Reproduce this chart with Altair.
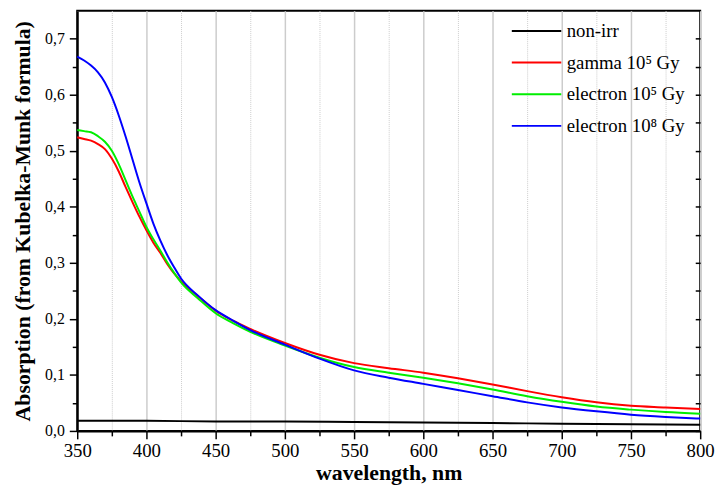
import altair as alt
import pandas as pd

# ---- data ----
wavelengths = [350, 355, 360, 365, 370, 375, 380, 385, 390, 395, 400, 405, 410, 415,
               420, 425, 437.5, 450, 462.5, 475, 500, 525, 550, 575, 600, 625, 650,
               675, 700, 725, 750, 775, 800]
gamma_1e5 = [0.524, 0.521, 0.518, 0.512, 0.503, 0.486, 0.463, 0.435, 0.408, 0.382,
             0.358, 0.336, 0.318, 0.298, 0.281, 0.267, 0.240, 0.2144, 0.1967, 0.182,
             0.157, 0.136, 0.121, 0.112, 0.104, 0.094, 0.083, 0.071, 0.060, 0.051,
             0.045, 0.042, 0.039]
electron_1e5 = [0.537, 0.535, 0.533, 0.526, 0.516, 0.500, 0.476, 0.447, 0.418, 0.391,
                0.364, 0.342, 0.322, 0.301, 0.282, 0.265, 0.236, 0.210, 0.1926, 0.177,
                0.1525, 0.1307, 0.114, 0.104, 0.095, 0.085, 0.074, 0.062, 0.052,
                0.0436, 0.038, 0.0336, 0.0306]
electron_1e8 = [0.668, 0.661, 0.652, 0.640, 0.622, 0.596, 0.563, 0.525, 0.484, 0.443,
                0.406, 0.370, 0.340, 0.314, 0.292, 0.272, 0.241, 0.2155, 0.197, 0.180,
                0.154, 0.129, 0.108, 0.095, 0.084, 0.073, 0.062, 0.051, 0.042, 0.035,
                0.029, 0.025, 0.022]
nonirr_wl = [350, 400, 450, 500, 550, 600, 650, 700, 750, 800]
nonirr = [0.018, 0.018, 0.017, 0.017, 0.016, 0.015, 0.014, 0.013, 0.012, 0.011]

series_names = ["non-irr", "gamma 10\u2075 Gy", "electron 10\u2075 Gy", "electron 10\u2078 Gy"]
series_colors = ["#000000", "#ff0000", "#00ee00", "#0000ff"]

x_ticks = list(range(350, 801, 25))
y_ticks = [round(i * 0.05, 2) for i in range(15)]

rows = []
for w, v in zip(nonirr_wl, nonirr):
    rows.append({"name": series_names[0], "wl": w, "value": v})
for name, vals in zip(series_names[1:], [gamma_1e5, electron_1e5, electron_1e8]):
    for w, v in zip(wavelengths, vals):
        rows.append({"name": name, "wl": w, "value": v})
df = pd.DataFrame(rows)

FONT = "Liberation Serif"

x_scale = alt.Scale(domain=[350, 800], nice=False)
y_scale = alt.Scale(domain=[0, 0.75], nice=False)
color_scale = alt.Scale(domain=series_names, range=series_colors)

x_axis = alt.Axis(
    orient="bottom", values=x_ticks, title="wavelength, nm",
    labelExpr="datum.value % 50 == 0 ? datum.label : ''",
    tickSize={"condition": {"test": "datum.value % 50 != 0", "value": 5}, "value": 8},
    grid=True, gridColor="#cccccc",
    gridWidth={"condition": {"test": "datum.value % 50 != 0", "value": 1}, "value": 1.5},
    gridDash={"condition": {"test": "datum.value % 50 != 0", "value": [1, 1]}, "value": []},
    labelFontSize=19, labelPadding=3, titlePadding=2,
    labelFlush=False, labelOverlap=False,
)
y_axis = alt.Axis(
    orient="left", values=y_ticks, title="Absorption (from Kubelka-Munk formula)",
    labelExpr="round(datum.value*100) % 10 == 0 ? replace(format(datum.value, '.1f'), '.', ',') : ''",
    tickSize={"condition": {"test": "round(datum.value*100) % 10 != 0", "value": 5}, "value": 8},
    grid=False, labelFontSize=16, labelPadding=5, titlePadding=10,
    labelFlush=False, labelOverlap=False,
)

lines = alt.Chart(df).mark_line(strokeWidth=2, interpolate="monotone").encode(
    x=alt.X("wl:Q", scale=x_scale, axis=x_axis),
    y=alt.Y("value:Q", scale=y_scale, axis=y_axis),
    color=alt.Color(
        "name:N", scale=color_scale, sort=series_names,
        legend=alt.Legend(
            title=None, orient="none", legendX=451, legendY=7,
            symbolType="M-2,0H2", symbolSize=625, symbolStrokeWidth=2,
            labelFont=FONT, labelFontSize=19, labelColor="black",
            labelOffset=17, rowPadding=8, labelLimit=300,
        ),
    ),
)

right_axis = alt.Chart(df).mark_line(opacity=0).encode(
    x=alt.X("wl:Q", scale=x_scale,
            axis=alt.Axis(orient="top", labels=False, ticks=False, domain=False,
                          grid=False, title=None)),
    y=alt.Y("value:Q", scale=y_scale,
            axis=alt.Axis(orient="right", values=y_ticks, labels=False, domain=False,
                          title=None, grid=False, tickSize=5, offset=-5)),
    detail="name:N",
)

chart = alt.layer(lines, right_axis).properties(
    width=630, height=425,
    autosize=alt.AutoSizeParams(type="none"),
    padding={"left": 70, "top": 0, "right": 17, "bottom": 54},
).configure_view(
    stroke="black", strokeWidth=2
).configure_axis(
    domainColor="black", domainWidth=2, tickColor="black", tickWidth=1.5,
    labelFont=FONT, labelColor="black",
    titleFont=FONT, titleFontSize=22, titleFontWeight="bold", titleColor="black",
)

chart.save("out.html", embed_options={"renderer": "svg", "actions": False})
